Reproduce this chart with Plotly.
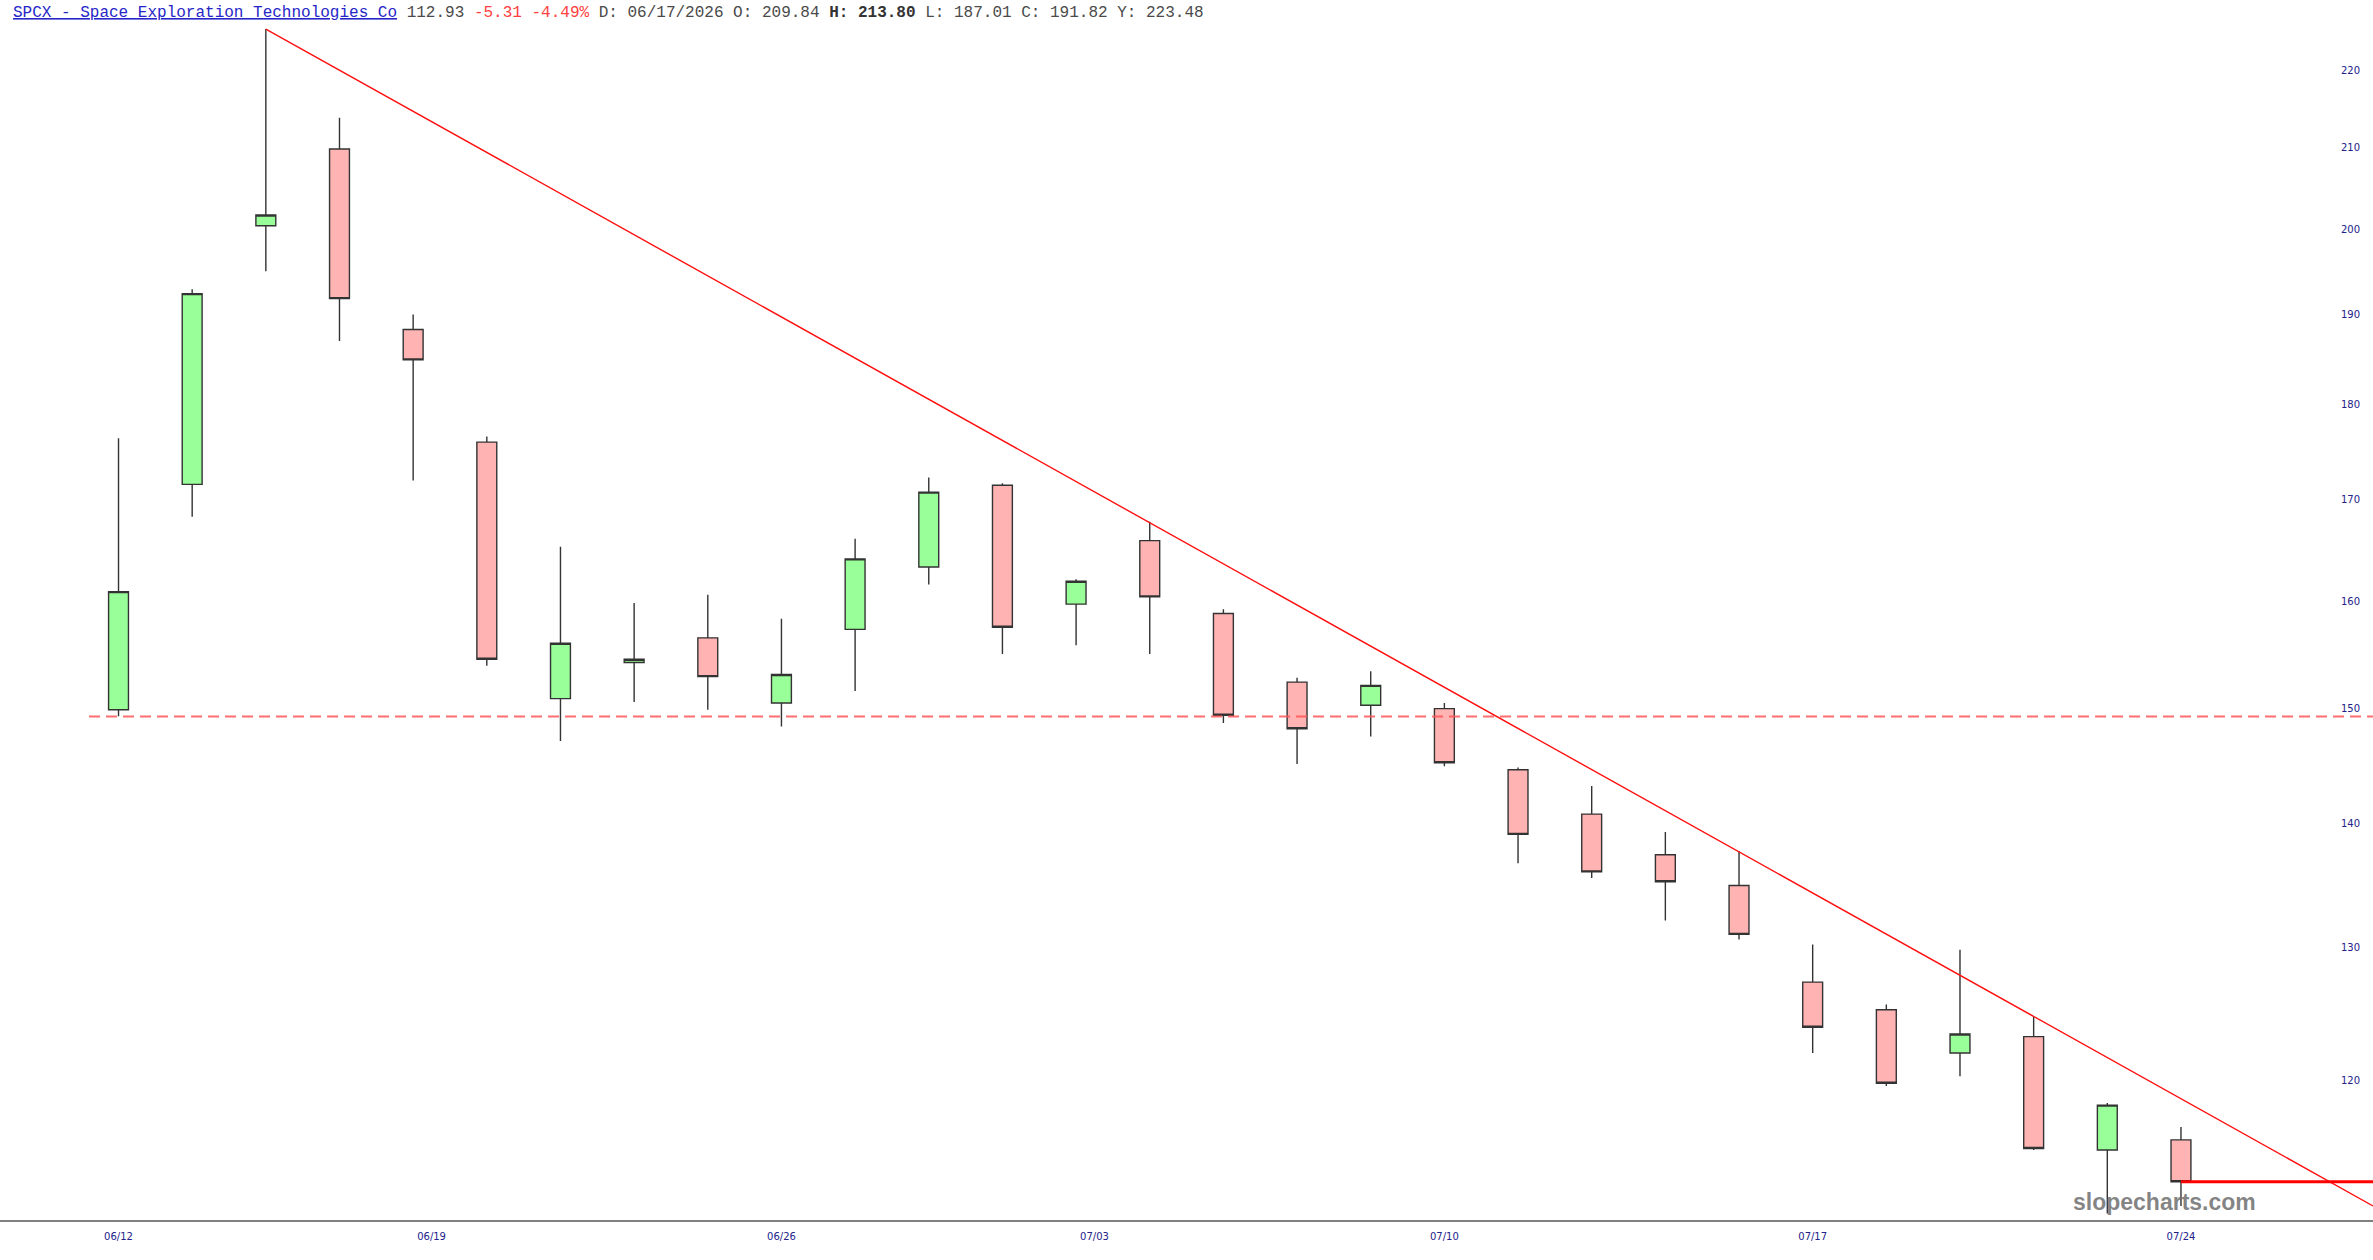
import numpy as np
import pandas as pd
import plotly.graph_objects as go

# ---------------- data ----------------
ticker = "SPCX"
company = "Space Exploration Technologies Co"
dates = ["2026-06-12", "2026-06-15", "2026-06-16", "2026-06-17", "2026-06-18",
         "2026-06-22", "2026-06-23", "2026-06-24", "2026-06-25", "2026-06-26",
         "2026-06-29", "2026-06-30", "2026-07-01", "2026-07-02", "2026-07-06",
         "2026-07-07", "2026-07-08", "2026-07-09", "2026-07-10", "2026-07-13",
         "2026-07-14", "2026-07-15", "2026-07-16", "2026-07-17", "2026-07-20",
         "2026-07-21", "2026-07-22", "2026-07-23", "2026-07-24"]
opens = [149.9, 171.6, 200.4, 209.84, 188.3, 176.0, 150.9, 154.2, 156.5, 150.5,
         157.3, 163.3, 171.5, 159.7, 165.9, 158.8, 152.4, 150.3, 150.0, 144.6,
         140.8, 137.4, 134.9, 127.3, 125.2, 122.0, 123.2, 115.1, 115.8]
highs = [176.4, 192.9, 225.5, 213.80, 190.0, 176.6, 165.3, 159.8, 160.6, 158.3,
         166.1, 172.3, 171.7, 162.1, 167.8, 159.2, 152.8, 153.4, 150.5, 144.8,
         143.2, 139.3, 137.7, 130.2, 125.6, 129.8, 124.7, 118.4, 116.7]
lows = [149.3, 168.3, 195.0, 187.01, 172.0, 153.9, 147.1, 150.6, 149.9, 148.4,
        151.6, 161.6, 155.0, 155.8, 155.0, 148.7, 145.1, 147.5, 144.9, 136.7,
        135.5, 132.1, 130.6, 122.0, 119.6, 120.3, 115.1, 110.8, 111.3]
closes = [160.9, 192.4, 201.7, 191.82, 184.9, 154.5, 156.0, 154.5, 152.9, 153.1,
          164.1, 170.8, 157.5, 161.9, 160.4, 149.4, 148.2, 152.1, 145.2, 139.1,
          136.0, 135.2, 131.0, 123.9, 119.8, 123.4, 115.2, 118.24, 112.93]

tick_dates = ["2026-06-12", "2026-06-19", "2026-06-26", "2026-07-03",
              "2026-07-10", "2026-07-17", "2026-07-24"]
tick_labels = ["06/12", "06/19", "06/26", "07/03", "07/10", "07/17", "07/24"]
y_ticks = [120, 130, 140, 150, 160, 170, 180, 190, 200, 210, 220]

support_level = 149.28          # dashed horizontal line
support_start = -0.4            # (bar index)
trend_start = (2, 225.5)        # (bar index, price)
trend_end = (30.607, 111.3)
cursor_y = 223.48
selected = 3                    # bar shown in the header

# ---------------- geometry ----------------
W, H = 2373, 1260
x_range = [-1.609, 30.607]
y_range = [2.04284, 2.36071]    # log10 range

idx = list(range(len(dates)))
d_ord = pd.to_datetime(dates).map(pd.Timestamp.toordinal).to_numpy()
t_ord = pd.to_datetime(tick_dates).map(pd.Timestamp.toordinal).to_numpy()
tick_pos = list(np.interp(t_ord, d_ord, idx))

fig = go.Figure()

fig.add_trace(go.Scatter(
    x=[support_start, x_range[1]], y=[support_level, support_level],
    mode="lines", line=dict(color="rgba(255,85,85,0.85)", width=2.0, dash="11px,6px"),
    hoverinfo="skip", showlegend=False))

fig.add_trace(go.Candlestick(
    x=idx, open=opens, high=highs, low=lows, close=closes,
    increasing=dict(fillcolor="#99FF99", line=dict(color="#333333", width=1.4)),
    decreasing=dict(fillcolor="#FFB3B3", line=dict(color="#333333", width=1.4)),
    whiskerwidth=0, showlegend=False))

fig.add_trace(go.Scatter(
    x=[trend_start[0], trend_end[0]], y=[trend_start[1], trend_end[1]],
    mode="lines", line=dict(color="#FF1010", width=1.4),
    hoverinfo="skip", showlegend=False))

fig.add_trace(go.Scatter(
    x=[idx[-1], x_range[1]], y=[closes[-1], closes[-1]],
    mode="lines", line=dict(color="#FF0000", width=3.2),
    hoverinfo="skip", showlegend=False))

chg = closes[-1] - closes[-2]
pct = chg / closes[-2] * 100
sd = pd.Timestamp(dates[selected]).strftime("%m/%d/%Y")
header = (
    f"<span style='color:#2626c8;text-decoration:underline'>{ticker} - {company}</span>"
    f"<span style='color:#4a4a4a'> {closes[-1]:.2f} </span>"
    f"<span style='color:#ff4040'>{chg:.2f} {pct:.2f}%</span>"
    f"<span style='color:#4a4a4a'> D: {sd} O: {opens[selected]:.2f} </span>"
    f"<b>H: {highs[selected]:.2f}</b>"
    f"<span style='color:#4a4a4a'> L: {lows[selected]:.2f} C: {closes[selected]:.2f} Y: {cursor_y:.2f}</span>"
)

fig.add_annotation(text=header, xref="paper", yref="paper",
                   x=11 / W, y=(1220 - 13) / 1220, xanchor="left", yanchor="middle",
                   showarrow=False, font=dict(family="Liberation Mono", size=16, color="#333"))

fig.add_annotation(text="<b>slopecharts.com</b>", xref="paper", yref="paper",
                   x=2071 / W, y=(1220 - 1202) / 1220, xanchor="left", yanchor="middle",
                   showarrow=False,
                   font=dict(family="Liberation Sans", size=23, color="rgba(110,110,110,0.85)"))

fig.update_layout(
    width=W, height=H,
    margin=dict(l=0, r=0, t=0, b=40),
    paper_bgcolor="white", plot_bgcolor="white",
    boxgap=0.73, boxgroupgap=0,
    showlegend=False,
    xaxis=dict(range=x_range, rangeslider=dict(visible=False), showgrid=False,
               zeroline=False, showline=True, linecolor="#808080", linewidth=2,
               tickmode="array", tickvals=tick_pos, ticktext=tick_labels,
               ticks="", ticklabelstandoff=6,
               tickfont=dict(family="DejaVu Sans", size=10, color="#22228a")),
    yaxis=dict(type="log", range=y_range, side="right", showgrid=False,
               zeroline=False, showline=False,
               tickmode="array", tickvals=y_ticks, ticktext=[str(v) for v in y_ticks],
               ticks="", ticklabelposition="inside", ticklabelstandoff=10,
               tickfont=dict(family="DejaVu Sans", size=10, color="#22228a")),
)

fig.write_html("out.html", config={"displayModeBar": False},
               post_script="document.body.style.margin='0';document.body.style.overflow='hidden';")
